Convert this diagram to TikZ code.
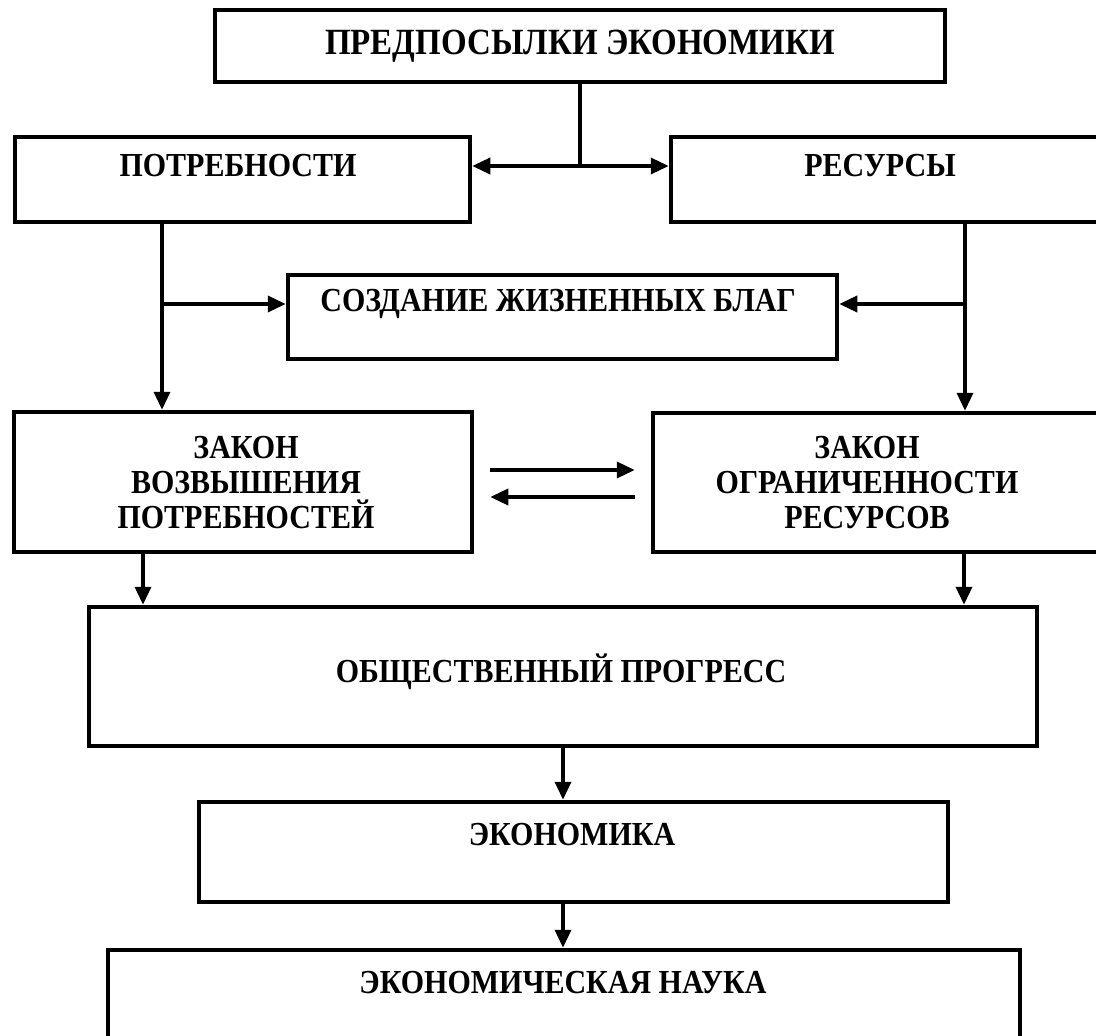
\documentclass[tikz,border=0pt]{standalone}
\usepackage{fontspec}
\usepackage{graphicx}
\setmainfont{Liberation Serif}
\usetikzlibrary{arrows.meta,calc}
\newcommand\talltxt[1]{\scalebox{1}[1.12]{#1}}
\begin{document}
\begin{tikzpicture}[x=1pt,y=-1pt,
  box/.style={draw=black, line width=4.5pt, rectangle, inner sep=0pt},
  lbl/.style={font=\fontsize{30}{35}\selectfont\bfseries, align=center, inner sep=0pt},
  arr/.style={line width=3.5pt, -{Triangle[length=18pt,width=16pt]}},
  ln/.style={line width=3.5pt}
]
\useasboundingbox (0,0) rectangle (1096,1036);
\clip (0,0) rectangle (1096,1036);
\fill[white] (0,0) rectangle (1096,1036);

% boxes
\node[box, minimum width=730, minimum height=72] (top) at (580,46) {};
\node[box, minimum width=455, minimum height=85] (potr) at (242.5,179.5) {};
\node[box, minimum width=449, minimum height=85] (res) at (895.5,179.5) {};
\node[box, minimum width=549, minimum height=84] (sozd) at (562.5,317) {};
\node[box, minimum width=458, minimum height=140] (lawL) at (243,482) {};
\node[box, minimum width=467, minimum height=139] (lawR) at (886.5,482.5) {};
\node[box, minimum width=948, minimum height=139] (obsh) at (563,676.5) {};
\node[box, minimum width=749, minimum height=100] (ekon) at (573.5,852) {};
\node[box, minimum width=912, minimum height=110] (nauka) at (564,1005) {};

% texts
\node[lbl, font=\fontsize{33}{38}\selectfont\bfseries] (tTop) at (580,46) {\talltxt{ПРЕДПОСЫЛКИ ЭКОНОМИКИ}};
\node[lbl] (tPotr) at (238,166) {\talltxt{ПОТРЕБНОСТИ}};
\node[lbl] (tRes) at (880,166) {\talltxt{РЕСУРСЫ}};
\node[lbl] (tSozd) at (558,304) {\talltxt{СОЗДАНИЕ ЖИЗНЕННЫХ БЛАГ}};
\node[lbl] (tLawL) at (246,483) {\talltxt{ЗАКОН}\\\talltxt{ВОЗВЫШЕНИЯ}\\\talltxt{ПОТРЕБНОСТЕЙ}};
\node[lbl] (tLawR) at (867,483) {\talltxt{ЗАКОН}\\\talltxt{ОГРАНИЧЕННОСТИ}\\\talltxt{РЕСУРСОВ}};
\node[lbl] (tObsh) at (561,672) {\talltxt{ОБЩЕСТВЕННЫЙ ПРОГРЕСС}};
\node[lbl] (tEkon) at (572,835) {\talltxt{ЭКОНОМИКА}};
\node[lbl] (tNauka) at (563,983) {\talltxt{ЭКОНОМИЧЕСКАЯ НАУКА}};

% junction coordinates
\coordinate (j1) at (580,166);
\coordinate (bL) at (162,304);
\coordinate (bR) at (965,304);
\coordinate (dL) at (143,580);
\coordinate (dR) at (964,580);

% connectors
\draw[ln] (top.south) -- (j1);
\draw[arr] (j1) -- (j1 -| potr.east);
\draw[arr] (j1) -- (j1 -| res.west);

\draw[arr] (bL |- potr.south) -- (bL |- lawL.north);
\draw[arr] (bL) -- (bL -| sozd.west);
\draw[arr] (bR |- res.south) -- (bR |- lawR.north);
\draw[arr] (bR) -- (bR -| sozd.east);

\draw[arr] ($(lawL.east)+(16,-12)$) -- ($(lawR.west)+(-16,-12.5)$);
\draw[arr] ($(lawR.west)+(-16,14.5)$) -- ($(lawL.east)+(16,15)$);

\draw[arr] (dL |- lawL.south) -- (dL |- obsh.north);
\draw[arr] (dR |- lawR.south) -- (dR |- obsh.north);

\draw[arr] (obsh.south) -- (obsh.south |- ekon.north);
\draw[arr] (obsh.south |- ekon.south) -- (obsh.south |- nauka.north);
\end{tikzpicture}
\end{document}
